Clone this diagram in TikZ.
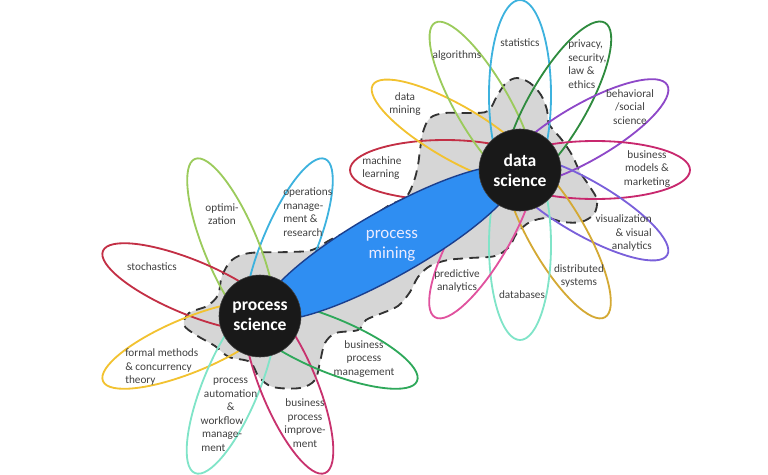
\documentclass[tikz,border=0pt]{standalone}
\usepackage{fontspec}
\setmainfont{Carlito}
\usepackage{xcolor}
\usepackage{tikz}

\definecolor{mlred}{HTML}{C32F45}
\definecolor{dmyellow}{HTML}{F2C230}
\definecolor{algogreen}{HTML}{9BCB5C}
\definecolor{statcyan}{HTML}{3DB2DE}
\definecolor{privgreen}{HTML}{2E8B3E}
\definecolor{behpurple}{HTML}{8E48C8}
\definecolor{bizmag}{HTML}{C8286E}
\definecolor{vizviolet}{HTML}{7A60DA}
\definecolor{distgold}{HTML}{D4A934}
\definecolor{dbmint}{HTML}{80E4C8}
\definecolor{predpink}{HTML}{E0529E}
\definecolor{bpmgreen}{HTML}{2EA85A}
\definecolor{bpimag}{HTML}{C8326E}
\definecolor{pmblue}{HTML}{2F8EF2}
\definecolor{pmedge}{HTML}{1B3F8E}
\definecolor{txtgray}{HTML}{404040}

\begin{document}
\begin{tikzpicture}[x=0.025cm,y=0.025cm,
  petal/.style={line width=1.3pt},
  hub/.style={draw=black!75,fill=black!90,circle,minimum size=2.05cm,inner sep=0pt,
    text=white,align=center,font=\fontsize{12.5}{14.2}\selectfont\bfseries},
  tag/.style={font=\fontsize{8}{9.6}\selectfont,text=txtgray,align=center,inner sep=0pt},
  blob/.style={draw=black!80,fill=black!16,line width=1.3pt,dash pattern=on 7pt off 4.5pt},
  pm/.style={draw=pmedge,fill=pmblue,line width=1pt}]
  \useasboundingbox (0,0) rectangle (768,-474);
  \coordinate (dsc) at (520,-170);
  \coordinate (psc) at (260,-316);
  \coordinate (pmc) at (390,-243);
  % grey area joining both sciences
  \draw[blob] plot[smooth cycle,tension=0.55] coordinates {
    (420,-150) (423,-132) (430,-118) (445,-113) (470,-113) (488,-111)
    (497,-96) (506,-83) (517,-78) (530,-83) (541,-95) (547,-110) (549,-124)
    (562,-140) (572,-155) (580,-172) (590,-187) (597,-200) (594,-214) (581,-222)
    (563,-222) (547,-218) (530,-222) (517,-233) (509,-247) (495,-256) (470,-258)
    (448,-260) (430,-266) (418,-277) (410,-292) (398,-306) (380,-314) (366,-320)
    (358,-330) (336,-333) (325,-343) (320,-362) (315,-380) (300,-388) (273,-387)
    (259,-377) (250,-362) (229,-357) (215,-346) (196,-335) (184,-325) (189,-313)
    (207,-306) (218,-295) (222,-276) (232,-260) (250,-253) (290,-252) (312,-250)
    (330,-240) (360,-225) (388,-206) (406,-197) (414,-181) (418,-165)};
  % petals of data science
  \draw[petal,mlred,shift={(dsc)},rotate=180] (75,0) ellipse [x radius=95,y radius=30];
  \draw[petal,dmyellow,shift={(dsc)},rotate=150] (75,0) ellipse [x radius=95,y radius=27];
  \draw[petal,algogreen,shift={(dsc)},rotate=120] (75,0) ellipse [x radius=95,y radius=27];
  \draw[petal,statcyan,shift={(dsc)},rotate=90] (75,0) ellipse [x radius=95,y radius=31];
  \draw[petal,privgreen,shift={(dsc)},rotate=60] (75,0) ellipse [x radius=95,y radius=29];
  \draw[petal,behpurple,shift={(dsc)},rotate=30] (75,0) ellipse [x radius=95,y radius=28];
  \draw[petal,bizmag,shift={(dsc)},rotate=0] (75,0) ellipse [x radius=95,y radius=29];
  \draw[petal,vizviolet,shift={(dsc)},rotate=-30] (75,0) ellipse [x radius=95,y radius=27];
  \draw[petal,distgold,shift={(dsc)},rotate=-60] (75,0) ellipse [x radius=95,y radius=28];
  \draw[petal,dbmint,shift={(dsc)},rotate=-90] (75,0) ellipse [x radius=95,y radius=31];
  \draw[petal,predpink,shift={(dsc)},rotate=-120] (75,0) ellipse [x radius=95,y radius=28];
  % petals of process science
  \draw[petal,statcyan,shift={(psc)},rotate=67.5] (75,0) ellipse [x radius=95,y radius=27];
  \draw[petal,algogreen,shift={(psc)},rotate=112.5] (75,0) ellipse [x radius=95,y radius=27];
  \draw[petal,mlred,shift={(psc)},rotate=157.5] (75,0) ellipse [x radius=95,y radius=27];
  \draw[petal,dmyellow,shift={(psc)},rotate=202.5] (75,0) ellipse [x radius=95,y radius=27];
  \draw[petal,dbmint,shift={(psc)},rotate=247.5] (75,0) ellipse [x radius=95,y radius=28];
  \draw[petal,bpimag,shift={(psc)},rotate=292.5] (75,0) ellipse [x radius=95,y radius=28];
  \draw[petal,bpmgreen,shift={(psc)},rotate=337.5] (75,0) ellipse [x radius=95,y radius=27];
  \draw[pm,shift={(pmc)},rotate=29.5] (0,0) ellipse [x radius=145,y radius=33];
  \node[font=\fontsize{12}{14.2}\selectfont,text=blue!8,align=center] (pmlabel) at (392,-246) {process\\mining};
  \node[hub] (ds) at (dsc) {data\\science};
  \node[hub] (ps) at (psc) {process\\science};
  \node[tag,anchor=west,align=left] (ml) at (362,-168) {machine\\learning};
  \node[tag] (dm) at (405,-104) {data\\mining};
  \node[tag] (algo) at (457,-56) {algorithms};
  \node[tag] (stat) at (520,-43) {statistics};
  \node[tag,anchor=west,align=left] (priv) at (568,-64) {privacy,\\security,\\law \&\\ethics};
  \node[tag] (beh) at (630,-107) {behavioral\\/social\\science};
  \node[tag] (biz) at (647,-169) {business\\models \&\\marketing};
  \node[tag,anchor=east,align=right] (viz) at (652,-233) {visualization\\\& visual\\analytics};
  \node[tag] (dist) at (579,-276) {distributed\\systems};
  \node[tag] (db) at (522,-295) {databases};
  \node[tag] (pred) at (457,-281) {predictive\\analytics};
  \node[tag,anchor=west,align=left] (ops) at (283,-212) {operations\\manage-\\ment \&\\research};
  \node[tag] (opt) at (222,-214) {optimi-\\zation};
  \node[tag] (sto) at (152,-267) {stochastics};
  \node[tag,anchor=west,align=left] (fm) at (125,-367) {formal methods\\\& concurrency\\theory};
  \node[tag] (auto) at (222,-415) {\hspace*{0.43cm}process\\\hspace*{0.43cm}automation\\\hspace*{0.43cm}\&\\
    workflow\hspace*{0.43cm}\\manage-\hspace*{0.43cm}\\ment\hspace*{0.43cm}};
  \node[tag] (bpi) at (305,-423) {business\\process\\improve-\\ment};
  \node[tag] (bpm) at (364,-359) {business\\process\\management};
\end{tikzpicture}
\end{document}
